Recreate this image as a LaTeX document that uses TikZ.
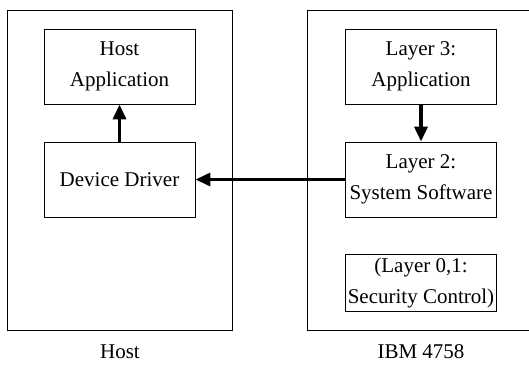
\documentclass[tikz,border=0pt]{standalone}
\usepackage{fontspec}
\setmainfont{Liberation Serif}
\usetikzlibrary{arrows.meta}
\begin{document}
\begin{tikzpicture}[x=1pt,y=-1pt,
  txt/.style={font=\fontsize{21}{31}\selectfont},
  layerbox/.style={draw, line width=0.9pt, minimum width=151pt, inner sep=0pt,
    align=center, txt},
  flow/.style={line width=3.5pt, -{Triangle[length=15pt,width=13pt]}},
  frame/.style={line width=0.9pt}]
\useasboundingbox (0,0) rectangle (529,371);

% host side
\draw[frame] (7,10) rectangle (232,330);
\node[layerbox, minimum height=75pt] (app) at (119.5,66.5) {Host\\Application};
\node[layerbox, minimum height=75pt] (drv) at (119.5,179.5) {Device Driver};
\node[txt] (hostlbl) at (120,352) {Host};

% coprocessor side (frame runs past the right edge)
\draw[frame] (535,10) -- (307,10) -- (307,330) -- (535,330);
\node[layerbox, minimum height=75pt] (l3) at (421,66.5) {Layer 3:\\Application};
\node[layerbox, minimum height=75pt] (l2) at (421,179.5) {Layer 2:\\System Software};
\node[layerbox, minimum height=57pt] (l01) at (421,283) {(Layer 0,1:\\Security Control)};
\node[txt] (ibmlbl) at (421,352) {IBM 4758};

% data flow
\draw[flow] (drv.north) -- (app.south);
\draw[flow] (l3.south) -- (l2.north);
\draw[flow] (l2.west) -- (drv.east);
\end{tikzpicture}
\end{document}
